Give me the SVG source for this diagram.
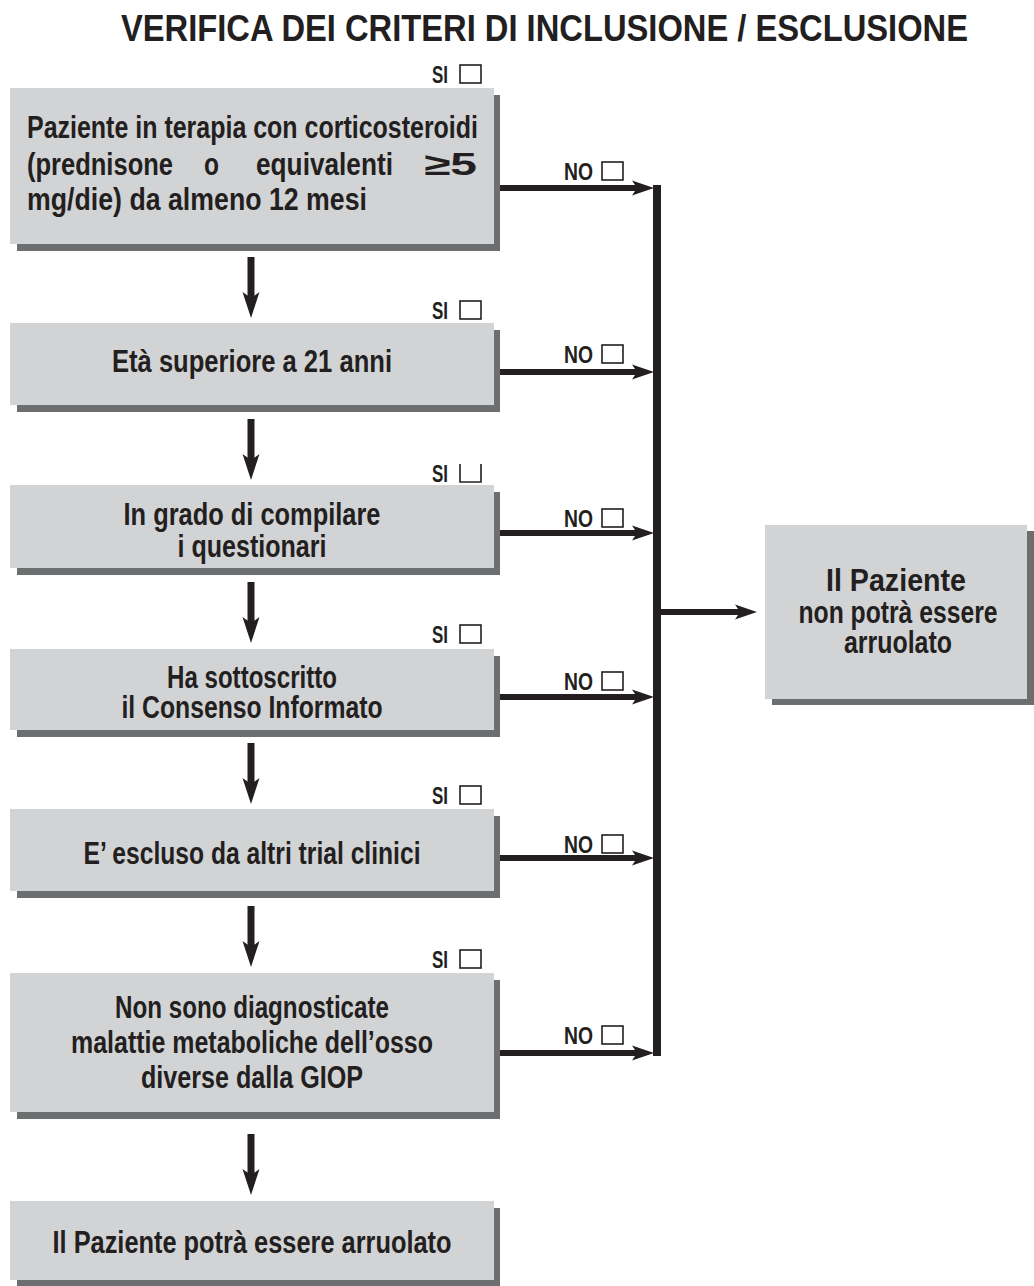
<svg xmlns="http://www.w3.org/2000/svg" width="1034" height="1286" viewBox="0 0 1034 1286">
<style>
.bg{fill:#ffffff}
.box{fill:#d2d3d5}
.sh{fill:#6d6e70}
.t{font-family:"Liberation Sans Narrow","Liberation Sans",Arial,sans-serif;font-weight:bold;font-size:31px;fill:#231f20}
.ttl{font-size:37px}
.lbl{font-size:23px}
.chk{fill:none;stroke:#231f20;stroke-width:1.6}
.conn{stroke:#231f20;fill:none}
.h{stroke-width:6}
.v{stroke-width:7}
.head{fill:#231f20}
</style>
<defs>
<path id="ahR" class="head" d="M0,0 L-22,-7.5 L-17,0 L-22,7.5 Z"/>
<path id="ahD" class="head" d="M0,0 L-8.5,-26 L0,-20 L8.5,-26 Z"/>
</defs>
<rect class="bg" x="0" y="0" width="1034" height="1286"/>
<text id="title" class="t ttl" x="544.5" y="41" text-anchor="middle" textLength="847" lengthAdjust="spacingAndGlyphs">VERIFICA DEI CRITERI DI INCLUSIONE / ESCLUSIONE</text>

<g id="n1">
<rect class="sh" x="17" y="95" width="483" height="156"/>
<rect class="box" x="10" y="88" width="484" height="156"/>
<text class="t" x="27" y="138" textLength="451" lengthAdjust="spacingAndGlyphs">Paziente in terapia con corticosteroidi</text>
<text class="t" x="27" y="175" textLength="146" lengthAdjust="spacingAndGlyphs">(prednisone</text>
<text class="t" x="204" y="175" textLength="15" lengthAdjust="spacingAndGlyphs">o</text>
<text class="t" x="256" y="175" textLength="137" lengthAdjust="spacingAndGlyphs">equivalenti</text>
<text class="t" x="424" y="175" textLength="53" lengthAdjust="spacingAndGlyphs">≥5</text>
<text class="t" x="27" y="210" textLength="340" lengthAdjust="spacingAndGlyphs">mg/die) da almeno 12 mesi</text>
</g>

<g id="n2">
<rect class="sh" x="17" y="330" width="483" height="82"/>
<rect class="box" x="10" y="323" width="484" height="82"/>
<text class="t" x="252" y="372" text-anchor="middle" textLength="280" lengthAdjust="spacingAndGlyphs">Età superiore a 21 anni</text>
</g>

<g id="n3">
<rect class="sh" x="17" y="492" width="483" height="83"/>
<rect class="box" x="10" y="485" width="484" height="83"/>
<text class="t" x="252" y="525" text-anchor="middle" textLength="257" lengthAdjust="spacingAndGlyphs">In grado di compilare</text>
<text class="t" x="252" y="557" text-anchor="middle" textLength="149" lengthAdjust="spacingAndGlyphs">i questionari</text>
</g>

<g id="n4">
<rect class="sh" x="17" y="656" width="483" height="81"/>
<rect class="box" x="10" y="649" width="484" height="81"/>
<text class="t" x="252" y="688" text-anchor="middle" textLength="170" lengthAdjust="spacingAndGlyphs">Ha sottoscritto</text>
<text class="t" x="252" y="718" text-anchor="middle" textLength="261" lengthAdjust="spacingAndGlyphs">il Consenso Informato</text>
</g>

<g id="n5">
<rect class="sh" x="17" y="816" width="483" height="82"/>
<rect class="box" x="10" y="809" width="484" height="82"/>
<text class="t" x="252" y="864" text-anchor="middle" textLength="337" lengthAdjust="spacingAndGlyphs">E’ escluso da altri trial clinici</text>
</g>

<g id="n6">
<rect class="sh" x="17" y="980" width="483" height="139"/>
<rect class="box" x="10" y="973" width="484" height="139"/>
<text class="t" x="252" y="1018" text-anchor="middle" textLength="274" lengthAdjust="spacingAndGlyphs">Non sono diagnosticate</text>
<text class="t" x="252" y="1053" text-anchor="middle" textLength="362" lengthAdjust="spacingAndGlyphs">malattie metaboliche dell’osso</text>
<text class="t" x="252" y="1088" text-anchor="middle" textLength="222" lengthAdjust="spacingAndGlyphs">diverse dalla GIOP</text>
</g>

<g id="n7">
<rect class="sh" x="17" y="1208" width="483" height="79"/>
<rect class="box" x="10" y="1201" width="484" height="79"/>
<text class="t" x="252" y="1253" text-anchor="middle" textLength="399" lengthAdjust="spacingAndGlyphs">Il Paziente potrà essere arruolato</text>
</g>

<g id="nx">
<rect class="sh" x="772" y="531" width="262" height="174"/>
<rect class="box" x="765" y="525" width="262" height="174"/>
<text class="t" x="896" y="591" text-anchor="middle" textLength="140" lengthAdjust="spacingAndGlyphs">Il Paziente</text>
<text class="t" x="898" y="623" text-anchor="middle" textLength="199" lengthAdjust="spacingAndGlyphs">non potrà essere</text>
<text class="t" x="898" y="653" text-anchor="middle" textLength="108" lengthAdjust="spacingAndGlyphs">arruolato</text>
</g>

<g id="labels">
<text class="t lbl" x="432" y="83" textLength="16" lengthAdjust="spacingAndGlyphs">SI</text><rect class="chk" x="460" y="65" width="21" height="18"/>
<text class="t lbl" x="432" y="319" textLength="16" lengthAdjust="spacingAndGlyphs">SI</text><rect class="chk" x="460" y="301" width="21" height="18"/>
<text class="t lbl" x="432" y="482" textLength="16" lengthAdjust="spacingAndGlyphs">SI</text><path class="chk" d="M460,464 V482 H481 V464"/>
<text class="t lbl" x="432" y="643" textLength="16" lengthAdjust="spacingAndGlyphs">SI</text><rect class="chk" x="460" y="625" width="21" height="18"/>
<text class="t lbl" x="432" y="804" textLength="16" lengthAdjust="spacingAndGlyphs">SI</text><rect class="chk" x="460" y="786" width="21" height="18"/>
<text class="t lbl" x="432" y="968" textLength="16" lengthAdjust="spacingAndGlyphs">SI</text><rect class="chk" x="460" y="950" width="21" height="18"/>

<text class="t lbl" x="564" y="180" textLength="29" lengthAdjust="spacingAndGlyphs">NO</text><rect class="chk" x="602" y="162" width="21" height="18"/>
<text class="t lbl" x="564" y="363" textLength="29" lengthAdjust="spacingAndGlyphs">NO</text><rect class="chk" x="602" y="345" width="21" height="18"/>
<text class="t lbl" x="564" y="527" textLength="29" lengthAdjust="spacingAndGlyphs">NO</text><rect class="chk" x="602" y="509" width="21" height="18"/>
<text class="t lbl" x="564" y="690" textLength="29" lengthAdjust="spacingAndGlyphs">NO</text><rect class="chk" x="602" y="672" width="21" height="18"/>
<text class="t lbl" x="564" y="853" textLength="29" lengthAdjust="spacingAndGlyphs">NO</text><rect class="chk" x="602" y="835" width="21" height="18"/>
<text class="t lbl" x="564" y="1044" textLength="29" lengthAdjust="spacingAndGlyphs">NO</text><rect class="chk" x="602" y="1026" width="21" height="18"/>
</g>

<g id="connectors">
<line class="conn v" x1="251" y1="257" x2="251" y2="300"/><use href="#ahD" x="251" y="318"/>
<line class="conn v" x1="251" y1="419" x2="251" y2="462"/><use href="#ahD" x="251" y="480"/>
<line class="conn v" x1="251" y1="582" x2="251" y2="625"/><use href="#ahD" x="251" y="643"/>
<line class="conn v" x1="251" y1="743" x2="251" y2="786"/><use href="#ahD" x="251" y="804"/>
<line class="conn v" x1="251" y1="906" x2="251" y2="949"/><use href="#ahD" x="251" y="967"/>
<line class="conn v" x1="251" y1="1134" x2="251" y2="1177"/><use href="#ahD" x="251" y="1195"/>

<line class="conn h" x1="500" y1="188" x2="640" y2="188"/><use href="#ahR" x="654" y="188"/>
<line class="conn h" x1="500" y1="372" x2="640" y2="372"/><use href="#ahR" x="654" y="372"/>
<line class="conn h" x1="500" y1="533" x2="640" y2="533"/><use href="#ahR" x="654" y="533"/>
<line class="conn h" x1="500" y1="697" x2="640" y2="697"/><use href="#ahR" x="654" y="697"/>
<line class="conn h" x1="500" y1="858" x2="640" y2="858"/><use href="#ahR" x="654" y="858"/>
<line class="conn h" x1="500" y1="1053" x2="640" y2="1053"/><use href="#ahR" x="654" y="1053"/>

<line class="conn" stroke-width="8" x1="657" y1="185" x2="657" y2="1056"/>
<line class="conn h" x1="657" y1="612" x2="742" y2="612"/><use href="#ahR" x="757" y="612"/>
</g>
</svg>
